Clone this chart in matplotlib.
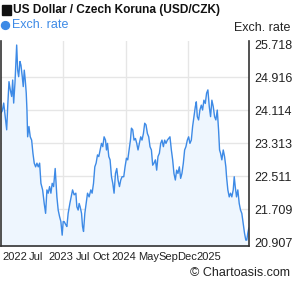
import matplotlib
matplotlib.use("Agg")
import matplotlib.pyplot as plt
from matplotlib.patches import Rectangle, Circle

plt.rcParams['font.family'] = ['Liberation Sans', 'DejaVu Sans']

# position along the 4-year window (0..248) and USD/CZK rate
t = [0, 1.3, 2.7, 4, 5.7, 6.7, 8, 9.3, 10.7, 11.7, 12.7, 14, 15, 15.7, 16.7, 17.7,
     19, 20, 21.3, 22.3, 23.3, 24.3, 25.3, 26, 26.7, 28, 29.3, 30.7, 32, 33.3,
     34.7, 36, 37.3, 38.7, 40, 41.7, 43.3, 44.7, 46, 47.3, 48.7, 50, 51.3, 52.7,
     54.3, 55, 56, 57.3, 58.7, 60, 61.3, 62.3,
     63.3, 65, 66, 67.3, 69, 70.3, 71.7, 73.3, 75, 76, 77.3, 78.3, 79.3, 80.7,
     81.7, 82.7, 84, 85.3, 86.7, 88.3, 90, 91.3, 92.7, 94, 95.3, 96.7, 98, 99.3,
     100.7, 102, 103.3, 104.7, 105.7, 106.7, 108, 109.3, 110.7, 112, 113.3,
     114.7, 116, 117.3, 118.7, 120, 121.3,
     123, 124.3, 125.7, 127, 128.3, 129.7, 130.7, 132, 133.3, 134.7, 136, 137.3,
     138.7, 140, 141.3, 142.7, 144, 145.3, 146.7, 148, 149.3, 150.7, 152, 153.3,
     154.7, 156, 157.3, 158.7, 160, 161.3, 162.7, 164, 165.3, 166.7, 168, 169.3,
     170.7, 172, 173.3, 174.7, 176, 177.3, 178.7, 180,
     181.3, 182.7, 184, 185.3, 186.7, 188, 189.3, 190.7, 192, 193.3, 194.7,
     195.7, 196.7, 198, 199.3, 200.7, 202, 203.3, 204.7, 206, 207.3, 208.7, 210,
     211.3, 212.7, 214, 215.3, 216.7, 218, 219, 220, 221.3, 222.7, 224, 225.3,
     226, 227.3, 228.7, 230, 231.3, 232.7, 233.7, 234.7, 236, 237.3, 238.7, 240,
     241.3, 242.7, 244, 245.3, 246.3, 247.3, 248.3]
rate = [24.05, 24.10, 24.29, 24.00, 23.64, 24.20, 24.81, 24.61, 24.45, 24.85,
        24.29, 24.78, 25.34, 25.70, 25.09, 24.93, 25.30, 25.21, 24.93, 24.69,
        25.09, 24.85, 24.53, 24.12, 23.47, 23.72, 23.47, 23.39, 23.07, 22.83,
        22.74, 22.83, 22.74, 22.83, 22.34, 22.18, 21.85, 21.61, 22.18, 22.10,
        22.26, 22.10, 22.34, 22.26, 22.70, 22.42, 22.01, 21.69, 21.53, 21.41,
        21.08, 21.41,
        21.41, 21.33, 21.29, 21.61, 21.85, 22.01, 22.18, 22.06, 22.10, 21.77,
        21.69, 21.85, 21.77, 21.61, 21.29, 21.17, 21.61, 21.85, 22.10, 22.01,
        22.18, 22.10, 22.34, 22.74, 22.83, 23.03, 22.99, 23.15, 23.31, 23.23,
        23.47, 23.39, 23.15, 23.31, 22.99, 22.91, 22.50, 22.34, 22.10, 22.58,
        22.70, 22.42, 22.26, 22.42, 22.50,
        22.50, 22.74, 22.95, 22.91, 23.15, 23.39, 23.68, 23.64, 23.39, 23.43,
        23.31, 23.15, 23.31, 23.47, 23.39, 23.55, 23.80, 23.76, 23.55, 23.47,
        23.23, 23.15, 22.78, 22.83, 22.91, 22.66, 22.99, 23.07, 23.31, 23.39,
        23.23, 23.39, 23.31, 23.39, 23.43, 23.47, 23.15, 22.91, 22.58, 22.42,
        22.66, 22.58, 22.74, 22.46,
        22.58, 22.83, 23.15, 23.23, 23.39, 23.47, 23.31, 23.39, 23.72, 23.96,
        24.20, 24.32, 23.96, 23.88, 24.12, 24.24, 24.12, 24.36, 24.28, 24.53,
        24.61, 24.20, 23.96, 24.36, 24.20, 23.96, 23.88, 24.12, 23.64, 23.15,
        23.07, 22.91, 23.15, 22.99, 22.74, 22.50, 22.18, 22.01, 22.10, 22.01,
        22.18, 22.50, 22.26, 22.01, 22.18, 21.85, 21.69, 21.61, 21.37, 21.13,
        20.96, 20.96, 21.13, 21.25]

yticks = [20.907, 21.709, 22.511, 23.313, 24.114, 24.916, 25.718]
xlabel_pos = [13.5, 35, 60, 82.5, 100.5, 123, 148, 167.5, 186.5, 208.5]
xlabels = ['2022', 'Jul', '2023', 'Jul', 'Oct', '2024', 'May', 'Sep', 'Dec', '2025']
year_lines = [62.5, 125, 187.5]

blue = '#3d8ae6'
W, H = 295, 288
fig = plt.figure(figsize=(W / 100, H / 100), dpi=100)
ax = fig.add_axes([1 / W, 1 - 245.7 / H, 248 / W, (245.7 - 41) / H])

ax.fill_between(t, rate, 20.0, color='#eef6fe', lw=0)
ax.plot(t, rate, color=blue, lw=1.0)

ax.set_xlim(0, 248.5)
ax.set_ylim(20.824, 25.798)

ax.yaxis.tick_right()
ax.set_yticks(yticks)
ax.set_yticklabels([f'{v:.3f}' for v in yticks])
ax.tick_params(axis='y', length=0, pad=4, labelsize=9, labelcolor='#222222')
ax.grid(axis='y', color='#e6e6e6', lw=1)
for i, g in enumerate(ax.yaxis.get_gridlines()):
    if i in (0, len(yticks) - 1):
        g.set_visible(False)

ax.set_xticks(xlabel_pos)
ax.set_xticklabels(xlabels)
ax.tick_params(axis='x', length=0, pad=4.5, labelsize=8, labelcolor='#222222')
ax.set_xticks(year_lines, minor=True)
ax.tick_params(axis='x', which='minor', length=0)
ax.grid(axis='x', which='minor', color='#e6e6e6', lw=1)
ax.set_axisbelow(True)

ax.spines['top'].set_visible(False)
for s in ('left', 'right', 'bottom'):
    ax.spines[s].set_color('#333333')
    ax.spines[s].set_linewidth(1.2)

# header
fig.add_artist(Rectangle((2 / W, 1 - 14.5 / H), 9 / W, 10 / H, color='#111111',
                         transform=fig.transFigure))
fig.text(13 / W, 1 - 9.5 / H, 'US Dollar / Czech Koruna (USD/CZK)', fontsize=8.6,
         fontweight='bold', va='center', ha='left', color='#111111')
fig.add_artist(Circle((5.5 / W, 1 - 25.5 / H), 4 / W, color=blue,
                      transform=fig.transFigure))
fig.text(12 / W, 1 - 25.5 / H, 'Exch. rate', fontsize=9, va='center', ha='left',
         color=blue)
fig.text(290 / W, 1 - 28 / H, 'Exch. rate', fontsize=9, va='center', ha='right',
         color='#222222')
fig.text(290 / W, 1 - 272.5 / H, '\u00a9 Chartoasis.com', fontsize=9, va='center',
         ha='right', color='#222222')

fig.savefig('out.png', dpi=100)
